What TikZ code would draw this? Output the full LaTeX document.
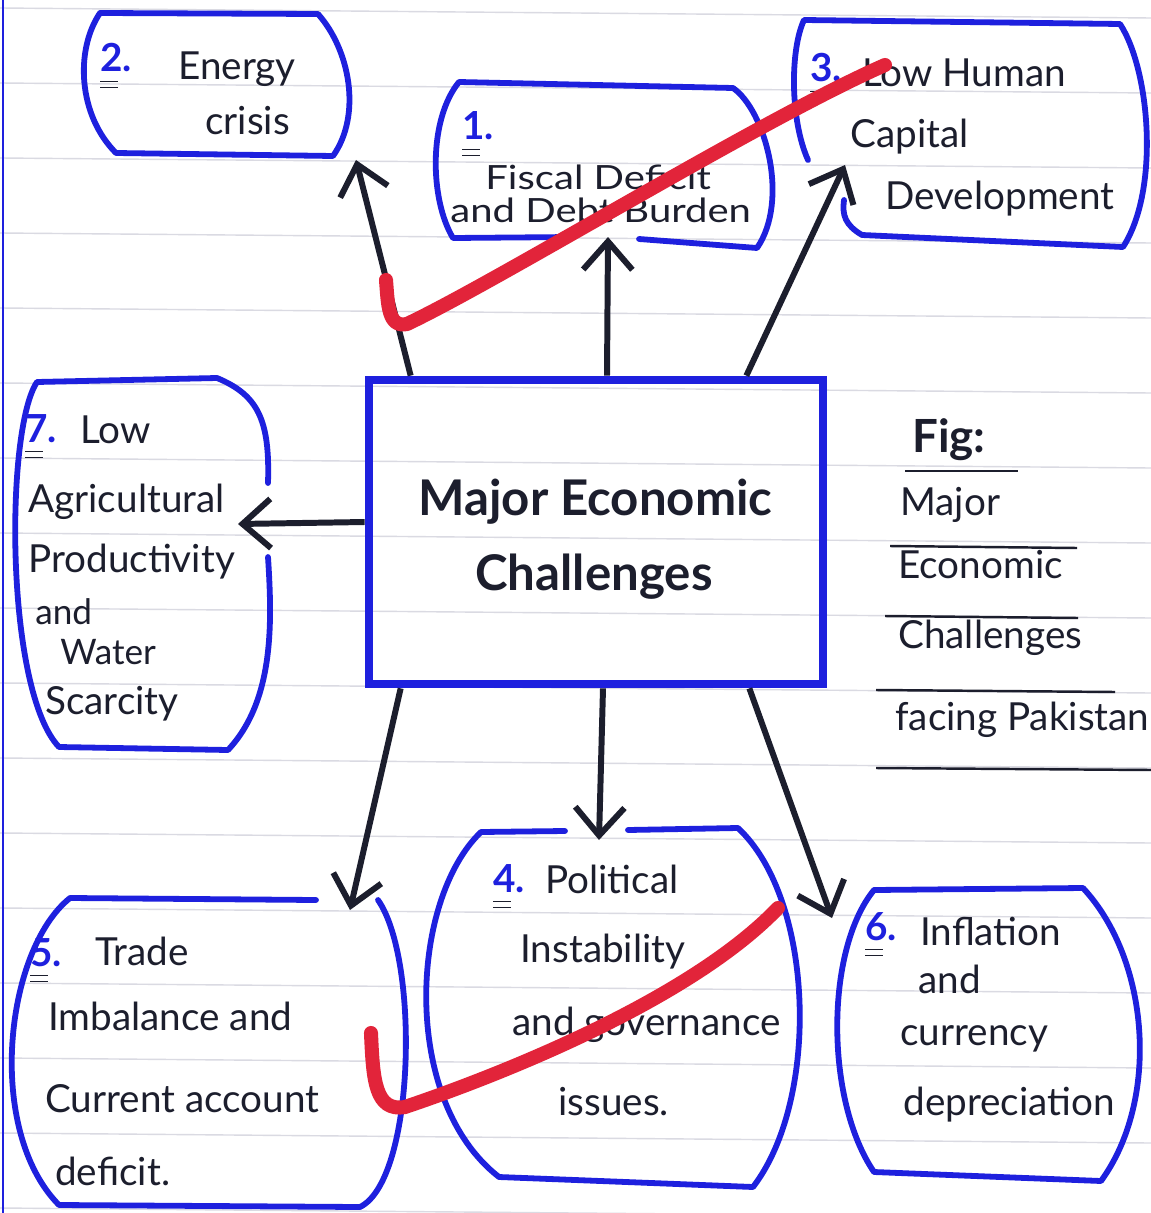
\documentclass[tikz,border=0pt]{standalone}
\usepackage{fontspec}
\setmainfont{Lato}
\newfontfamily\widefont[FakeStretch=1.2]{Lato}
\usetikzlibrary{arrows.meta}

\definecolor{pen}{RGB}{30,32,222}
\definecolor{ink}{RGB}{28,30,45}
\definecolor{tick}{RGB}{226,36,58}
\definecolor{paper}{RGB}{218,218,226}

\tikzset{
	box/.style={draw=pen, line width=3.3pt, line join=round, line cap=round},
	arr/.style={draw=ink, line width=3.4pt, -{Straight Barb[length=16pt,width=28pt]}},
	txt/.style={anchor=base west, inner sep=0pt, text=ink, font=\fontsize{22}{26}\selectfont},
	num/.style={txt, text=pen, font=\fontsize{22}{26}\selectfont\bfseries,
		append after command={
			([shift={(0pt,-5pt)}]\tikzlastnode.south west) edge[ink, line width=1pt] ++(10pt,0pt)
			([shift={(0pt,-8.5pt)}]\tikzlastnode.south west) edge[ink, line width=1pt] ++(10pt,0pt)}},
	chk/.style={draw=tick, line width=8pt, line cap=round, line join=round},
	ruling/.style={draw=paper, line width=0.8pt},
}

\begin{document}
\begin{tikzpicture}[x=0.02cm, y=-0.02cm]
	
	\useasboundingbox (0,0) rectangle (1151,1213);
	\fill[white] (0,0) rectangle (1151,1213);
	\foreach \k in {0,...,16} \draw[ruling] (0,8+75*\k) -- (1151,18+75*\k);
	\draw[pen, line width=1.4pt] (3,0) -- (3,1213);
	
	\node[draw=pen, line width=5pt, minimum width=9.08cm, minimum height=6.08cm] (m) at (596,532) {};
	\node[txt, font=\fontsize{28}{32}\selectfont\bfseries] (m1) at (418,515) {Major Economic};
	\node[txt, font=\fontsize{28}{32}\selectfont\bfseries] (m2) at (475,590) {Challenges};
	
	\draw[box] (100,13) -- (318,14) .. controls (350,50) and (362,115) .. (333,156) -- (116,153) .. controls (78,115) and (75,50) .. (100,13);
	\draw[box] (573,237) -- (453,238) .. controls (430,200) and (428,120) .. (459,82) -- (733,88) .. controls (765,110) and (790,200) .. (757,248) -- (639,239);
	\draw[box] (808,160) .. controls (790,120) and (790,50) .. (804,20) -- (1120,24) .. controls (1150,70) and (1160,190) .. (1123,247) -- (862,235) .. controls (845,225) and (842,215) .. (844,200);
	\draw[box] (268,483) .. controls (270,420) and (258,395) .. (217,378) -- (37,382) .. controls (5,430) and (5,690) .. (59,747) -- (228,750) .. controls (275,700) and (272,620) .. (268,557);
	\draw[box] (316,900) -- (70,898) .. controls (5,950) and (-15,1130) .. (59,1205) -- (360,1207) .. controls (415,1180) and (420,960) .. (378,900);
	\draw[box] (565,831) -- (481,832) .. controls (410,900) and (400,1100) .. (499,1177) -- (753,1187) .. controls (820,1100) and (815,900) .. (738,828) -- (628,830);
	\draw[box] (874,890) -- (1083,888) .. controls (1150,960) and (1160,1100) .. (1101,1181) -- (874,1172) .. controls (825,1100) and (825,950) .. (874,890);
	
	\node[num] (n2) at (100,72) {2.};
	\node[txt] (t2a) at (178,80) {Energy};
	\node[txt] (t2b) at (205,135) {crisis};
	
	\node[num] (n1) at (462,140) {1.};
	\node[txt, font=\fontsize{19}{22}\widefont] (t1a) at (485,190) {Fiscal Deficit};
	\node[txt, font=\fontsize{19}{22}\widefont] (t1b) at (450,223) {and Debt Burden};
	
	\node[num] (n3) at (810,82) {3.};
	\node[txt] (t3a) at (862,87) {Low Human};
	\node[txt] (t3b) at (850,148) {Capital};
	\node[txt] (t3c) at (885,210) {Development};
	
	\node[num] (n7) at (25,442) {7.};
	\node[txt] (t7a) at (80,443) {Low};
	\node[txt] (t7b) at (28,512) {Agricultural};
	\node[txt] (t7c) at (28,572) {Productivity};
	\node[txt, font=\fontsize{20}{24}\selectfont] (t7d) at (35,624) {and};
	\node[txt, font=\fontsize{20}{24}\selectfont] (t7e) at (60,664) {Water};
	\node[txt] (t7f) at (45,714) {Scarcity};
	
	\node[num] (n4) at (493,892) {4.};
	\node[txt] (t4a) at (545,893) {Political};
	\node[txt] (t4b) at (520,962) {Instability};
	\node[txt] (t4c) at (512,1035) {and governance};
	\node[txt] (t4d) at (558,1115) {issues.};
	
	\node[num] (n5) at (30,966) {5.};
	\node[txt] (t5a) at (95,965) {Trade};
	\node[txt] (t5b) at (48,1030) {Imbalance and};
	\node[txt] (t5c) at (45,1112) {Current account};
	\node[txt] (t5d) at (55,1185) {deficit.};
	
	\node[num] (n6) at (865,940) {6.};
	\node[txt] (t6a) at (920,945) {Inflation};
	\node[txt] (t6b) at (918,993) {and};
	\node[txt] (t6c) at (900,1045) {currency};
	\node[txt] (t6d) at (903,1115) {depreciation};
	
	\node[txt, font=\fontsize{26}{30}\selectfont\bfseries] (f0) at (912,452) {Fig:};
	\node[txt] (f1) at (900,515) {Major};
	\node[txt] (f2) at (898,578) {Economic};
	\node[txt] (f3) at (898,648) {Challenges};
	\node[txt] (f4) at (895,730) {facing Pakistan};
	\draw[ink, line width=1.4pt] (905,471) -- (1018,471);
	\draw[ink, line width=1.4pt] (890,546) -- (1077,548);
	\draw[ink, line width=1.4pt] (885,616) -- (1078,618);
	\draw[ink, line width=1.4pt] (876,690) -- (1115,692);
	\draw[ink, line width=1.4pt] (876,768) -- (1151,770);
	
	\coordinate (e2) at (356,160);
	\coordinate (e1) at (608,237);
	\coordinate (e3) at (845,165);
	\coordinate (e7) at (238,524);
	\coordinate (e5) at (350,910);
	\coordinate (e4) at (599,840);
	\coordinate (e6) at (832,918);
	
	\draw[arr] ([xshift=0.92cm]m.north west) to (e2);
	\draw[arr] ([xshift=0.22cm]m.north) to (e1);
	\draw[arr] ([xshift=-1.62cm]m.north east) to (e3);
	\draw[arr] ([yshift=0.2cm]m.west) to (e7);
	\draw[arr] ([xshift=0.72cm]m.south west) to (e5);
	\draw[arr] ([xshift=0.14cm]m.south) to (e4);
	\draw[arr] ([xshift=-1.56cm]m.south east) to (e6);
	
	\draw[chk] (386,280) .. controls (388,305) and (388,328) .. (407,324) .. controls (500,280) and (760,120) .. (885,65);
	\draw[chk] (371,1033) .. controls (373,1080) and (375,1112) .. (405,1107) .. controls (500,1075) and (690,1000) .. (778,908);
	
\end{tikzpicture}
\end{document}
